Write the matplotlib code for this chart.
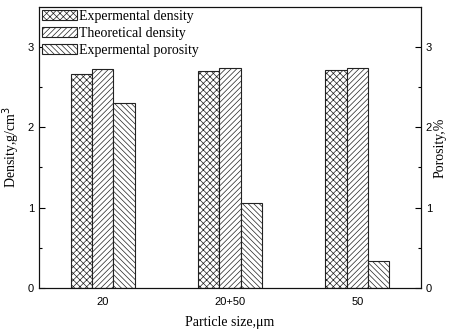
import matplotlib
matplotlib.use("Agg")
import matplotlib.pyplot as plt
import numpy as np

categories = ["20", "20+50", "50"]
exp_density = [2.67, 2.70, 2.72]
theo_density = [2.73, 2.74, 2.74]
exp_porosity = [2.30, 1.05, 0.33]
series_names = ["Expermental density", "Theoretical density", "Expermental porosity"]

plt.rcParams['hatch.linewidth'] = 0.5
plt.rcParams['hatch.color'] = '#444444'

fig = plt.figure(figsize=(4.6, 3.29), dpi=100)
ax = fig.add_axes([39/460, 1-287.7/329, (421-39)/460, (287.7-7)/329])

x = np.arange(len(categories))
w = 0.168
hatches = ['xxxxx', '//////', '\\\\\\\\\\\\']
for i, (vals, h) in enumerate(zip([exp_density, theo_density, exp_porosity], hatches)):
    ax.bar(x + (i - 1) * w, vals, w, facecolor='white', edgecolor='#222222',
           linewidth=0.8, hatch=h, label=series_names[i])

ax.set_xlim(-0.5, 2.5)
ax.set_ylim(0, 3.5)
ax.set_xticks(x)
ax.set_xticklabels(categories, fontfamily='Liberation Sans', fontsize=8)
ax.set_yticks([0, 1, 2, 3])
ax.set_yticks([0.5, 1.5, 2.5], minor=True)
ax.set_yticklabels(['0', '1', '2', '3'], fontfamily='Liberation Sans', fontsize=8)
ax.tick_params(axis='y', direction='in', length=4, width=0.8, which='major')
ax.tick_params(axis='y', direction='in', length=2.5, width=0.8, which='minor')
ax.tick_params(axis='x', direction='out', length=0, pad=7)

ax2 = ax.twinx()
ax2.set_ylim(0, 3.5)
ax2.set_yticks([0, 1, 2, 3])
ax2.set_yticks([0.5, 1.5, 2.5], minor=True)
ax2.set_yticklabels(['0', '1', '2', '3'], fontfamily='Liberation Sans', fontsize=8)
ax2.tick_params(axis='y', direction='in', length=4, width=0.8, which='major')
ax2.tick_params(axis='y', direction='in', length=2.5, width=0.8, which='minor')

for a in (ax, ax2):
    for s in a.spines.values():
        s.set_linewidth(0.8)
        s.set_color('#111111')

ax.set_ylabel("Density,g/cm$^3$", fontfamily='Liberation Serif', fontsize=10, labelpad=4)
ax2.set_ylabel("Porosity,%", fontfamily='Liberation Serif', fontsize=10, labelpad=1)
ax.set_xlabel("Particle size,μm", fontfamily='Liberation Serif', fontsize=10, labelpad=6)

leg = ax.legend(loc='upper left', frameon=False, prop={'family': 'Liberation Serif', 'size': 10},
                handlelength=2.5, handleheight=0.7, handletextpad=0.15, labelspacing=0.3,
                borderaxespad=0.15, borderpad=0.05)
for p in leg.get_patches():
    p.set_linewidth(0.8)

fig.savefig("out.png", dpi=100)
